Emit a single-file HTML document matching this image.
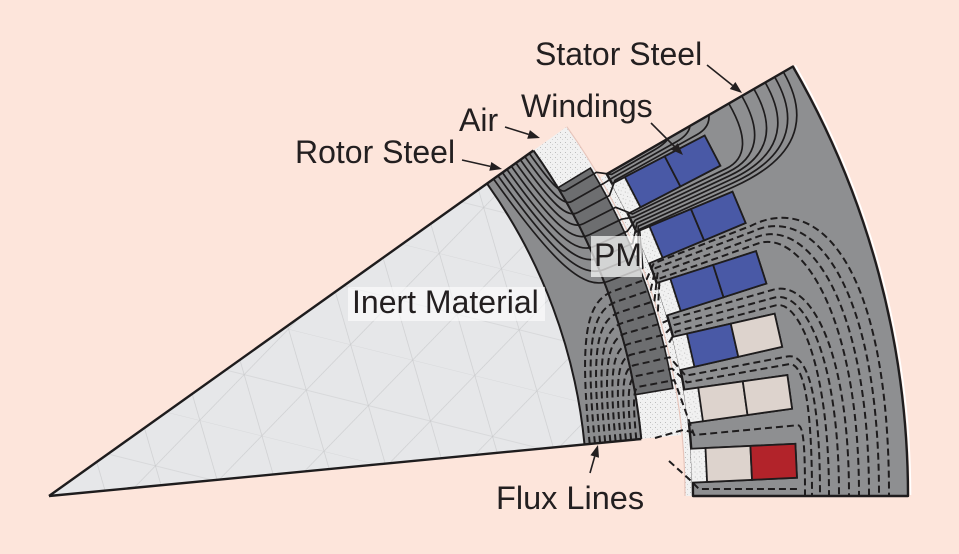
<!DOCTYPE html>
<html><head><meta charset="utf-8">
<style>html,body{margin:0;padding:0;background:#fde5db;width:959px;height:554px;overflow:hidden;}svg{display:block;}</style>
</head><body>
<svg width="959" height="554" viewBox="0 0 959 554" xmlns="http://www.w3.org/2000/svg" font-family="'Liberation Sans', Arial, sans-serif" overflow="hidden">
<defs>
 <pattern id="dots" width="5" height="5" patternUnits="userSpaceOnUse">
  <rect width="5" height="5" fill="#f1f1f1"/>
  <rect x="1" y="1" width="1" height="1" fill="#bdbdbd"/>
  <rect x="3" y="3" width="1" height="1" fill="#d2d2d2"/>
 </pattern>
 <pattern id="mesh" width="64" height="110" patternUnits="userSpaceOnUse" patternTransform="rotate(14)">
  <rect width="64" height="110" fill="#e6e7e9"/>
  <path d="M0,0 L32,55 L0,110 M64,0 L32,55 L64,110 M0,0 H64 M0,55 H64" stroke="#cacbcd" stroke-width="0.6" fill="none"/>
 </pattern>
</defs>
<rect width="959" height="554" fill="#fde5db"/>

<g transform="translate(49 496)">
 <!-- STATOR -->
 <path d="M636,0 L859,0 A859,859 0 0 0 743.9,-429.5 L550.8,-318 A636,636 0 0 1 636,0 Z" fill="url(#dots)"/>
 <path d="M644,0 L859,0 A859,859 0 0 0 743.9,-429.5 L557.7,-322 A644,644 0 0 1 644,0 Z" fill="#8e8f91" stroke="#1e1c1d" stroke-width="2.4" stroke-linejoin="round"/>
 <path d="M861.5,-1 A861.5,861.5 0 0 0 746.1,-430.7" stroke="#ffffff" stroke-width="1.6" fill="none"/>

 <g stroke="#1e1c1d" stroke-width="1.8">
  <g transform="rotate(-2.7)">
   <path d="M643,-17 H748 V17 H643" fill="url(#dots)"/>
   <rect x="658" y="-17" width="45" height="34" fill="#ddd3cd"/>
   <rect x="703" y="-17" width="45" height="34" fill="#b2232a"/>
  </g>
  <g transform="rotate(-8)">
   <path d="M643,-17 H748 V17 H643" fill="url(#dots)"/>
   <rect x="658" y="-17" width="45" height="34" fill="#ddd3cd"/>
   <rect x="703" y="-17" width="45" height="34" fill="#ddd3cd"/>
  </g>
  <g transform="rotate(-12.8)">
   <path d="M643,-17 H748 V17 H643" fill="url(#dots)"/>
   <rect x="658" y="-17" width="45" height="34" fill="#4959a6"/>
   <rect x="703" y="-17" width="45" height="34" fill="#ddd3cd"/>
  </g>
  <g transform="rotate(-17.8)">
   <path d="M643,-17 H748 V17 H643" fill="url(#dots)"/>
   <rect x="658" y="-17" width="45" height="34" fill="#4959a6"/>
   <rect x="703" y="-17" width="45" height="34" fill="#4959a6"/>
  </g>
  <g transform="rotate(-22.7)">
   <path d="M643,-17 H748 V17 H643" fill="url(#dots)"/>
   <rect x="658" y="-17" width="45" height="34" fill="#4959a6"/>
   <rect x="703" y="-17" width="45" height="34" fill="#4959a6"/>
  </g>
  <g transform="rotate(-27.5)">
   <path d="M643,-17 H748 V17 H643" fill="url(#dots)"/>
   <rect x="658" y="-17" width="45" height="34" fill="#4959a6"/>
   <rect x="703" y="-17" width="45" height="34" fill="#4959a6"/>
  </g>
 </g>

 <!-- ROTOR (sector paths) -->
 <path d="M0,0 L633.1,-61 A636,636 0 0 0 517.8,-369.3 Z" fill="url(#dots)"/>
 <path d="M0,0 L592.3,-57 A595,595 0 0 0 484.4,-345.5 Z" fill="#8b8c8e"/>
 <path d="M0,0 L535.5,-51.6 A538,538 0 0 0 438,-312.4 Z" fill="url(#mesh)"/>
 <path d="M586.3,-101.3 L623.8,-107.7 A633,633 0 0 0 541.4,-327.9 L508.9,-308.2 A595,595 0 0 1 586.3,-101.3 Z" fill="#6d6e70" stroke="#1e1c1d" stroke-width="1.6"/>
 <path d="M636,0 A636,636 0 0 0 517.8,-369.3" stroke="#e8c6bc" stroke-width="1.2" fill="none"/>

 <g stroke="#1e1c1d" fill="none">
  <path d="M0,0 L484.4,-345.5" stroke-width="2.4"/>
  <path d="M0,0 L592.3,-57" stroke-width="2.4"/>
  <path d="M535.5,-51.6 A538,538 0 0 0 438,-312.4" stroke-width="2"/>
  <path d="M592.3,-57 A595,595 0 0 0 484.4,-345.5" stroke-width="2"/>
 </g>

 <!-- SOLID FLUX LINES -->
 <g stroke="#1e1c1d" stroke-width="1.7" fill="none" stroke-linejoin="round">
  <path d="M480.3,-342.6 C502.4,-311.8 511.4,-302.5 516.4,-305.4 L547.4,-323.7 L562.6,-321.6 L603.4,-344.9 Q616.4,-352.3 619.2,-357.5"/>
  <path d="M475.9,-339.4 C503.1,-301.3 514.8,-290.1 522.7,-294.5 L554.1,-312.2 L564.3,-318.6 L627,-354 Q640.1,-361.4 640.9,-370"/>
  <path d="M471.4,-336.2 C503.7,-290.9 518,-277.7 528.8,-283.5 L560.5,-300.5 L565.9,-315.6 L648,-361.4 Q661.1,-368.7 659.9,-381"/>
  <path d="M466.9,-333 C504.3,-280.7 521.2,-265.6 534.6,-272.4 L566.7,-288.7 L583.4,-282 L677,-327.3 Q708.6,-342.6 679.8,-392.5"/>
  <path d="M462.4,-329.8 C504.7,-270.6 524.2,-253.4 540.2,-261.1 L572.6,-276.8 L584.9,-279 L678.7,-323.7 Q724.3,-345.5 692.8,-400"/>
  <path d="M457.9,-326.6 C505.1,-260.5 527,-241.3 545.5,-249.8 L578.3,-264.8 L586.3,-275.9 L680.4,-320.2 Q739.2,-347.8 704.9,-407"/>
  <path d="M453.5,-323.4 C505.5,-250.6 529.8,-229.3 550.7,-238.3 L583.7,-252.6 L587.8,-272.8 L682.1,-316.6 Q753.1,-349.6 716.2,-413.5"/>
  <path d="M449,-320.3 C505.8,-240.7 532.4,-217.3 555.5,-226.7 L588.9,-240.3 L589.2,-269.7 L683.8,-313 Q765.3,-350.4 725.7,-419"/>
  <path d="M444.5,-317.1 C506,-230.9 534.9,-205.3 560.1,-215 L593.8,-227.9 L590.6,-266.7 L685.4,-309.5 Q776.7,-350.7 734.4,-424"/>
 </g>

 <!-- DASHED FLUX LINES -->
 <g stroke="#1e1c1d" stroke-width="2" fill="none" stroke-dasharray="7,4">
  <path d="M587.3,-56.6 C583.6,-95.1 584.3,-108.3 590,-109.3 L625.3,-115.9 L645.1,-61 L748.7,-70.8 C755,-71 756,-45 756,-1"/>
  <path d="M582.1,-56.1 C577.7,-102.3 579.1,-118.3 587.9,-120.1 L623.1,-127.3 L638,-113.6 L740.3,-131.9 C755,-133 763,-90 763,-1"/>
  <path d="M576.9,-55.6 C571.7,-109.5 573.9,-128.3 585.6,-130.9 L620.7,-138.7 L636.7,-120.3 L738.9,-139.6 C760,-143 771,-95 771,-1"/>
  <path d="M571.8,-55.1 C565.9,-116.5 568.7,-138.2 583.1,-141.6 L618,-150.1 L626.8,-164.4 L727.4,-190.8 C750,-195 780,-130 780,-1"/>
  <path d="M566.6,-54.6 C559.9,-123.4 563.4,-147.8 580.4,-152.3 L615.2,-161.4 L625,-171 L725.4,-198.4 C755,-206 790,-140 790,-1"/>
  <path d="M561.4,-54.1 C554.1,-130.2 558.1,-157.4 577.5,-162.9 L612.1,-172.6 L623.2,-177.5 L723.2,-206 C760,-218 800,-150 800,-1"/>
  <path d="M556.2,-53.6 C548.2,-136.9 552.7,-166.9 574.4,-173.4 L608.9,-183.8 L610.5,-217.4 L708.4,-252.3 C750,-268 810,-185 810,-1"/>
  <path d="M551.1,-53.1 C542.3,-143.6 547.3,-176.3 571.1,-183.9 L605.4,-195 L608.5,-222.7 L706.2,-258.4 C756,-280 820,-200 820,-1"/>
  <path d="M545.9,-52.6 C536.5,-150.1 541.9,-185.6 567.7,-194.4 L601.7,-206 L606.6,-228 L703.9,-264.6 C762,-292 830,-215 830,-1"/>
  <path d="M540.7,-52.1 C530.6,-156.6 536.4,-194.7 564,-204.7 L597.8,-217 L604.8,-232.7 L701.8,-270.1 C770,-305 840,-230 840,-1"/>
  <path d="M620,-35 L640,-17 L650,-7 L748,-7"/>
  <path d="M606,-58 L634,-66 L646,-63"/>
 </g>
</g>

<!-- label boxes -->
<rect x="348" y="287" width="197" height="34" fill="#ffffff" fill-opacity="0.6"/>
<rect x="591" y="236" width="51" height="41" fill="#ffffff" fill-opacity="0.7"/>

<!-- arrows -->
<g stroke="#231f20" stroke-width="1.6" fill="none">
 <line x1="707" y1="65" x2="732.6" y2="85.5"/>
 <line x1="651" y1="123" x2="674.5" y2="146.5"/>
 <line x1="505" y1="127" x2="528.6" y2="134.4"/>
 <line x1="462" y1="160" x2="490.3" y2="166.4"/>
 <line x1="590" y1="473" x2="594.7" y2="456.5"/>
</g>
<g fill="#231f20">
 <polygon points="742,93 729.8,89 735.4,82"/>
 <polygon points="683,155 671.3,149.7 677.7,143.3"/>
 <polygon points="540,138 527.2,138.7 529.9,130.1"/>
 <polygon points="502,169 489.3,170.8 491.3,162"/>
 <polygon points="598,445 599,457.7 590.4,455.3"/>
</g>

<!-- labels -->
<g fill="#231f20" font-size="32">
 <text x="535" y="65">Stator Steel</text>
 <text x="521" y="117">Windings</text>
 <text x="459" y="131">Air</text>
 <text x="295" y="163">Rotor Steel</text>
 <text x="352" y="313">Inert Material</text>
 <text x="594" y="266">PM</text>
 <text x="496" y="509" font-size="32.5">Flux Lines</text>
</g>
</svg>
</body></html>
